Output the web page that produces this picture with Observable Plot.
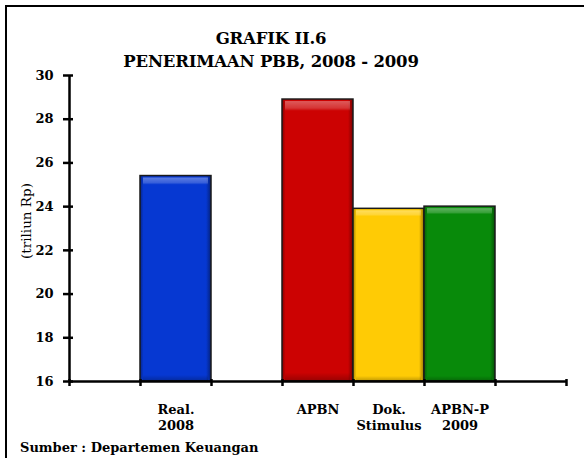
<!DOCTYPE html>
<html>
<head>
<meta charset="utf-8">
<script src="https://cdn.jsdelivr.net/npm/d3@7"></script>
<script src="https://cdn.jsdelivr.net/npm/@observablehq/plot@0.6"></script>
<style>
  html, body { margin: 0; padding: 0; background: #fff; }
  #wrap { position: relative; width: 584px; height: 458px; overflow: hidden; background: #fff; font-family: "DejaVu Serif", serif; }
  #frame { position: absolute; left: 5px; top: 5px; width: 640px; height: 520px; border: 2px solid #000; box-sizing: border-box; }
  #chart { position: absolute; left: 0; top: 0; }
  #title { position: absolute; left: 0; width: 542px; top: 27px; text-align: center; font-weight: bold; font-size: 16.5px; letter-spacing: -0.2px; line-height: 23px; color: #000; }
  #ylab { position: absolute; left: 26px; top: 221px; transform: translate(-50%, -50%) rotate(-90deg); font-size: 13.5px; white-space: nowrap; color: #000; }
  #caption { position: absolute; left: 20px; top: 440px; font-size: 13px; font-weight: bold; white-space: nowrap; color: #000; }
</style>
</head>
<body>
<div id="wrap">
  <div id="frame"></div>
  <div id="chart"></div>
  <div id="title">GRAFIK II.6<br>PENERIMAAN PBB, 2008 - 2009</div>
  <div id="ylab">(triliun Rp)</div>
  <div id="caption">Sumber : Departemen Keuangan</div>
</div>
<script>
const categories = ["", "Real.\n2008", "", "APBN", "Dok.\nStimulus", "APBN-P\n2009", ""];
const values = [null, 25.4, null, 28.9, 23.9, 24.0, null];
const colors = [null, "#0638d2", null, "#cc0202", "#ffcb05", "#088a0a", null];
const yTicks = [16, 18, 20, 22, 24, 26, 28, 30];
const yBase = 16;

const slots = categories.map((c, i) => ({i, c, v: values[i], color: colors[i]}));
const bars = slots.filter(d => d.v != null);
const bounds = d3.range(categories.length + 1);

const font = "DejaVu Serif";

const plot = Plot.plot({
  width: 584,
  height: 458,
  marginLeft: 69,
  marginRight: 18,
  marginTop: 75,
  marginBottom: 77,
  style: {fontFamily: font, background: "transparent", overflow: "visible"},
  x: {domain: [0, categories.length], axis: null},
  y: {domain: [yTicks[0], yTicks[yTicks.length - 1]], axis: null},
  color: {type: "identity"},
  marks: [
    Plot.rect(bars, {
      x1: "i", x2: d => d.i + 1, y1: yBase, y2: "v",
      fill: d => `url(#grad${d.i})`,
      stroke: "#1a1a1a", strokeWidth: 1.5
    }),
    Plot.rect(bars, {
      x1: "i", x2: d => d.i + 1, y1: yBase, y2: "v",
      fill: "url(#hilite)", insetLeft: 3, insetRight: 3, insetTop: 2
    }),
    Plot.axisY({ticks: yTicks, tickSize: 6, tickPadding: 10, fontSize: 13, fontWeight: "bold", stroke: "#000", strokeWidth: 2.5, label: null}),
    Plot.axisY({ticks: yTicks, tickSize: -4, tickFormat: () => "", stroke: "#000", strokeWidth: 2.5, label: null}),
    Plot.axisX({ticks: bounds, tickSize: 5, tickFormat: () => "", stroke: "#000", strokeWidth: 2.5, label: null}),
    Plot.axisX({ticks: bounds, tickSize: -2, tickFormat: () => "", stroke: "#000", strokeWidth: 2.5, label: null}),
    Plot.ruleX([0], {y1: yBase, y2: yTicks[yTicks.length - 1], stroke: "#000", strokeWidth: 2.5}),
    Plot.ruleY([yBase], {x1: 0, x2: categories.length, stroke: "#000", strokeWidth: 2.5}),
    Plot.text(slots.filter(d => d.c), {
      x: d => d.i + 0.5, y: yBase, text: "c",
      lineAnchor: "top", dy: 21, lineHeight: 1.25,
      fontSize: 13, fontWeight: "bold", fill: "#000"
    })
  ]
});

// gradient defs for the bevelled look
const ns = "http://www.w3.org/2000/svg";
const defs = document.createElementNS(ns, "defs");
function shade(c, k) { return d3.color(c).darker(k).formatHex(); }
bars.forEach(d => {
  const g = document.createElementNS(ns, "linearGradient");
  g.setAttribute("id", `grad${d.i}`);
  g.setAttribute("x1", "0"); g.setAttribute("x2", "1"); g.setAttribute("y1", "0"); g.setAttribute("y2", "0");
  [[0, shade(d.color, 1.2)], [0.05, d.color], [0.93, d.color], [1, shade(d.color, 1.5)]].forEach(([o, c]) => {
    const s = document.createElementNS(ns, "stop");
    s.setAttribute("offset", o); s.setAttribute("stop-color", c);
    g.appendChild(s);
  });
  defs.appendChild(g);
});
const h = document.createElementNS(ns, "linearGradient");
h.setAttribute("id", "hilite");
h.setAttribute("x1", "0"); h.setAttribute("x2", "0"); h.setAttribute("y1", "0"); h.setAttribute("y2", "1");
[[0, "rgba(255,255,255,0.35)"], [0.025, "rgba(255,255,255,0.2)"], [0.035, "rgba(255,255,255,0)"], [0.97, "rgba(0,0,0,0)"], [1, "rgba(0,0,0,0.25)"]].forEach(([o, c]) => {
  const s = document.createElementNS(ns, "stop");
  s.setAttribute("offset", o); s.setAttribute("stop-color", c);
  h.appendChild(s);
});
defs.appendChild(h);
plot.insertBefore(defs, plot.firstChild);

document.getElementById("chart").appendChild(plot);
</script>
</body>
</html>
